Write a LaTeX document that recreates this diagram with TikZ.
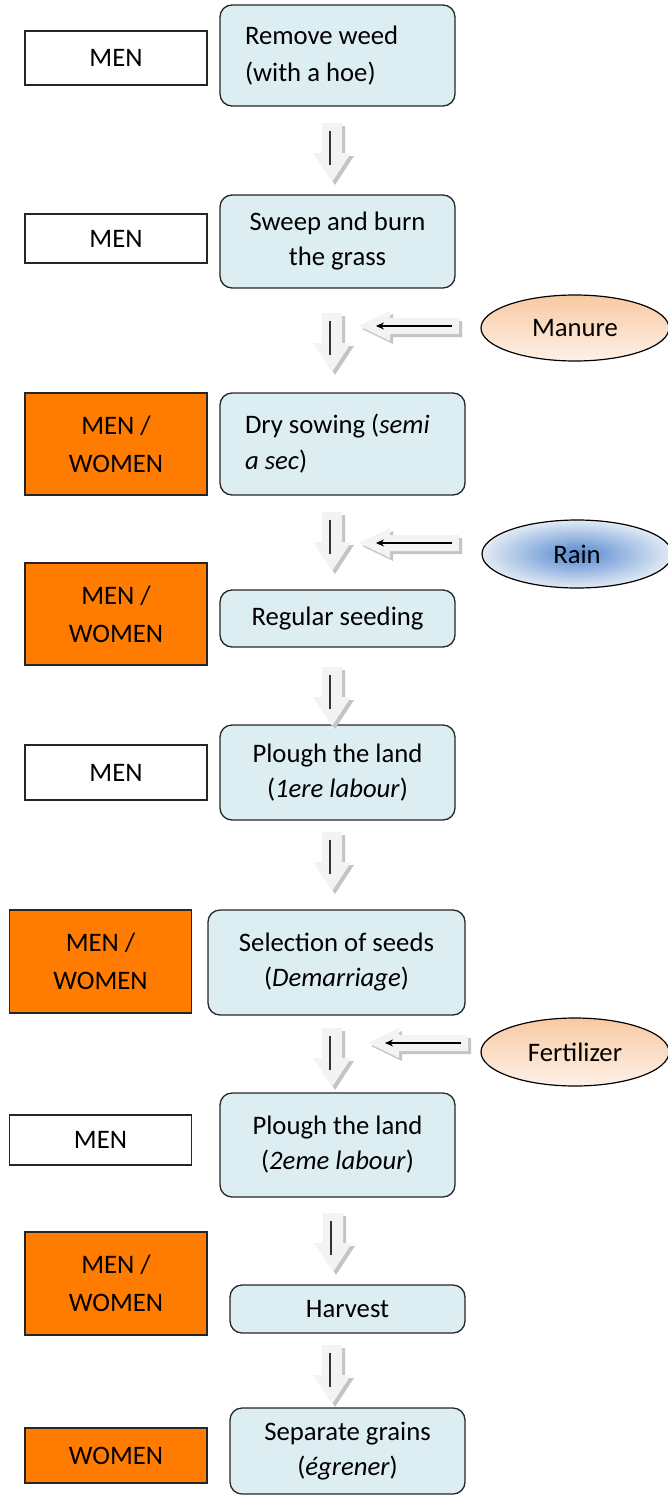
\documentclass[tikz,border=0pt]{standalone}
\usepackage{fontspec}
\setmainfont{Carlito}
\usetikzlibrary{shapes.geometric,arrows.meta}
\definecolor{stepblue}{HTML}{DDEEF3}
\definecolor{roleorange}{HTML}{FF7C00}
\definecolor{arrfill}{HTML}{F3F3F3}
\definecolor{arrshade}{HTML}{C4C4C4}
\definecolor{peach}{HTML}{F8C9A2}
\definecolor{peachlight}{HTML}{FDF1E7}
\definecolor{rainblue}{HTML}{5488CF}
\definecolor{rainlight}{HTML}{E2EBF5}
\tikzset{
  every node/.style={font=\fontsize{26.7}{35}\selectfont},
  stepbox/.style={draw=black!85, line width=1.3pt, fill=stepblue,
    rounded corners=12pt, inner sep=0pt, align=center, minimum width=235pt},
  leftstep/.style={stepbox, align=flush left, text width=#1},
  who/.style={draw=black!85, line width=1.1pt, inner sep=0pt, align=center,
    minimum width=182pt},
  menbox/.style={who, fill=white},
  mixbox/.style={who, fill=roleorange, font=\fontsize{26.7}{38}\selectfont},
  inputnode/.style={ellipse, draw=black, line width=1.2pt, inner sep=0pt},
  darrow/.pic={
    \fill[arrshade] (-7,3) -- (13,3) -- (13,33) -- (22,33) -- (3,62) -- (-16,33) -- (-7,33) -- cycle;
    \fill[arrfill] (-10,0) -- (10,0) -- (10,30) -- (19,30) -- (0,59) -- (-19,30) -- (-10,30) -- cycle;
    \draw[line width=2pt, black!80] (-2,8) -- (-2,42);
  },
  harrow/.pic={
    \fill[arrshade] (3,3) -- (34,-12) -- (34,-5) -- (103,-5) -- (103,11) -- (34,11) -- (34,18) -- cycle;
    \fill[arrfill] (0,0) -- (31,-15) -- (31,-8) -- (100,-8) -- (100,8) -- (31,8) -- (31,15) -- cycle;
    \draw[line width=1.5pt, -{Stealth[length=8pt,width=7pt]}] (93,0) -- (17,0);
  }
}
\begin{document}
\begin{tikzpicture}[x=1pt, y=-1pt]
\useasboundingbox (0,0) rectangle (668,1496);
\clip (0,0) rectangle (668,1496);

% who does each step
\node[menbox, minimum height=54pt] (w1) at (116,58) {MEN};
\node[menbox, minimum height=49pt] (w2) at (116,238.5) {MEN};
\node[mixbox, minimum height=102pt] (w3) at (116,444) {MEN /\\WOMEN};
\node[mixbox, minimum height=102pt] (w4) at (116,614) {MEN /\\WOMEN};
\node[menbox, minimum height=55pt] (w5) at (116,772.5) {MEN};
\node[mixbox, minimum height=103pt] (w6) at (100.5,961.5) {MEN /\\WOMEN};
\node[menbox, minimum height=50pt] (w7) at (100.5,1140) {MEN};
\node[mixbox, minimum height=103pt] (w8) at (116,1283.5) {MEN /\\WOMEN};
\node[mixbox, minimum height=55pt] (w9) at (116,1455.5) {WOMEN};

% the steps
\node[leftstep=185pt, minimum height=101pt, font=\fontsize{26.7}{37}\selectfont] (s1) at (337.5,55.5) {Remove weed\\(with a hoe)};
\node[stepbox, minimum height=93pt] (s2) at (337.5,241.5) {Sweep and burn\\the grass};
\node[leftstep=195pt, minimum width=245pt, minimum height=102pt, font=\fontsize{26.7}{36}\selectfont] (s3) at (342.5,444) {Dry sowing (\textit{semi}\\\textit{a sec})};
\node[stepbox, minimum height=57pt] (s4) at (337.5,618.5) {Regular seeding};
\node[stepbox, minimum height=95pt] (s5) at (337.5,772.5) {Plough the land\\(\textit{1ere labour})};
\node[stepbox, minimum width=257pt, minimum height=105pt] (s6) at (336.5,962.5) {Selection of seeds\\(\textit{Demarriage})};
\node[stepbox, minimum height=104pt] (s7) at (337.5,1145) {Plough the land\\(\textit{2eme labour})};
\node[stepbox, minimum height=48pt] (s8) at (347.5,1309) {Harvest};
\node[stepbox, minimum height=86pt] (s9) at (347.5,1451) {Separate grains\\(\textit{égrener})};

% inputs
\node[inputnode, minimum width=188pt, minimum height=66pt, top color=peach, bottom color=peachlight] (manure) at (575,328) {Manure};
\node[inputnode, minimum width=190pt, minimum height=68pt, inner color=rainblue, outer color=rainlight] (rain) at (577,554) {Rain};
\node[inputnode, minimum width=188pt, minimum height=68pt, top color=peach, bottom color=peachlight] (fert) at (575,1052) {Fertilizer};

% block arrows between steps
\pic at (332,123) {darrow};
\pic at (332,313) {darrow};
\pic at (332,512) {darrow};
\pic at (332,667) {darrow};
\pic at (332,832) {darrow};
\pic at (332,1028) {darrow};
\pic at (333,1213) {darrow};
\pic at (332,1345) {darrow};

% block arrows from the inputs
\pic at (359,326) {harrow};
\pic at (359,543) {harrow};
\pic at (368,1043) {harrow};
\end{tikzpicture}
\end{document}
